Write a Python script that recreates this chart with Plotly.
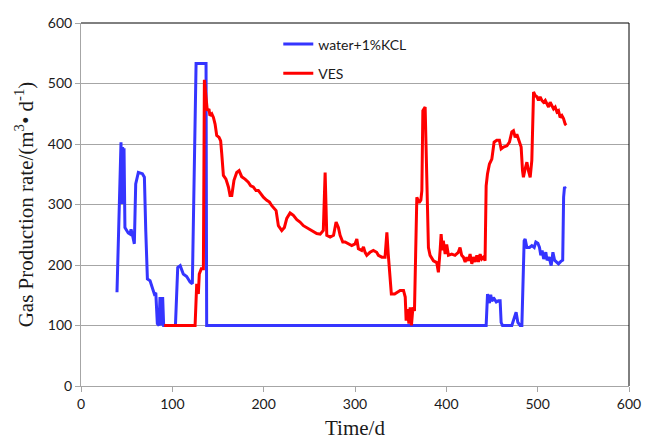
import plotly.graph_objects as go

# ---- data ----
kcl_x = [39.4, 43.8, 44.7, 45.6, 46.4, 47.1, 48.1, 49.8, 51.7, 53.7, 54.8, 56.3, 58.4, 59.9, 60.9,
         62.8, 67.2, 69.4, 70.9, 72.7, 75.6, 77.4, 80.3, 81.9, 83.6, 85.4, 86.5, 88.4, 89.4, 90.5,
         103.4, 105.9, 108.6, 112.0, 115.7, 119.4, 121.9, 126.0, 136.9, 137.6,
         443.6, 445.1, 447.2, 448.6, 449.8, 451.6, 453.5, 454.7, 457.1, 458.9, 460.0, 461.5,
         471.7, 474.2, 476.4, 478.3, 480.8, 482.7, 485.2, 486.3, 488.2, 491.1, 493.6, 496.2,
         498.0, 500.2, 502.0, 503.4, 504.9, 506.6, 508.9, 510.3, 512.5, 514.8, 516.7, 518.5,
         520.2, 522.8, 525.4, 527.4, 528.4, 529.4, 530.5]
kcl_y = [155, 403, 301, 395, 301, 393, 262, 257, 253, 251, 259, 250, 235, 334, 340,
         353, 351, 345, 257, 177, 174, 166, 152, 154, 103, 100, 147, 100, 147, 100,
         100, 196, 199, 185, 181, 172, 169, 533, 533, 100,
         100, 152, 137, 151, 140, 146, 141, 139, 141, 141, 105, 100,
         100, 111, 122, 105, 100, 100, 240, 243, 229, 229, 232, 229,
         238, 236, 229, 216, 224, 210, 221, 208, 213, 199, 221, 208,
         206, 202, 206, 208, 312, 329, 326]

ves_x = [91.1, 124.9, 126.7, 128.5, 129.5, 131.7, 134.0, 135.1, 136.9, 138.3, 140.1, 141.1, 143.2,
         145.0, 146.8, 148.6, 151.2, 152.9, 154.1, 155.9, 158.7, 161.4, 163.2, 165.1, 167.5, 170.5,
         173.1, 175.9, 179.6, 183.2, 185.8, 188.6, 191.6, 194.2, 196.8, 199.7, 203.4, 206.4, 208.9,
         211.5, 213.6, 216.1, 219.8, 222.7, 225.3, 228.9, 232.5, 236.3, 239.8, 243.5, 247.2, 250.9,
         254.5, 258.1, 261.9, 265.3, 267.3, 269.1, 272.8, 276.5, 279.3, 281.8, 283.7, 286.6, 289.1,
         292.8, 296.4, 300.1, 302.0, 303.7, 307.4, 309.3, 311.0, 312.9, 316.4, 320.1, 323.7, 325.6,
         329.4, 332.9, 334.9, 336.4, 338.0, 339.8, 343.4, 347.1, 349.4, 353.1, 355.0, 356.0, 357.4,
         359.0, 360.4, 361.8, 363.4, 365.1, 366.6, 367.7, 370.2, 372.1, 373.2, 374.3, 376.8, 377.8,
         379.3, 380.4, 382.2, 385.9, 389.5, 391.3, 393.2, 394.3, 395.7, 396.7, 398.7, 400.4, 402.3,
         405.9, 409.5, 413.1, 415.0, 416.8, 418.7, 420.6, 422.4, 424.3, 426.0, 427.9, 429.6, 431.6,
         433.4, 435.2, 437.0, 438.8, 440.7, 442.4, 443.6, 445.1, 447.2, 449.8, 452.3, 455.2, 458.1,
         460.0, 462.6, 466.3, 469.1, 471.7, 473.5, 475.4, 477.2, 479.7, 481.9, 483.4, 484.4, 486.3,
         488.2, 489.9, 491.8, 493.6, 495.5, 497.3, 499.2, 500.9, 502.7, 504.6, 506.4, 508.3, 510.1,
         511.9, 513.7, 515.5, 517.4, 519.2, 521.1, 522.8, 524.6, 526.5, 528.3, 530.1, 531.2]
ves_y = [100, 100, 169, 152, 185, 194, 194, 506, 477, 455, 458, 447, 450,
         444, 433, 414, 411, 405, 384, 348, 342, 329, 315, 315, 340, 353,
         356, 346, 342, 337, 331, 329, 323, 323, 318, 312, 307, 304, 298,
         293, 290, 265, 257, 262, 277, 286, 282, 275, 271, 265, 262, 259,
         255, 252, 251, 257, 353, 249, 246, 249, 271, 262, 249, 238, 238,
         235, 232, 235, 243, 227, 224, 230, 221, 216, 221, 224, 221, 216,
         213, 213, 254, 218, 185, 152, 152, 155, 158, 158, 147, 108, 127,
         103, 130, 100, 130, 124, 213, 312, 303, 307, 323, 455, 461, 406,
         296, 229, 216, 207, 204, 188, 224, 251, 224, 240, 218, 234, 216,
         218, 216, 221, 229, 216, 213, 205, 213, 207, 218, 202, 213, 205,
         216, 205, 218, 210, 213, 207, 331, 351, 367, 375, 403, 406, 406,
         392, 395, 397, 403, 420, 422, 411, 416, 403, 395, 356, 345, 359,
         370, 356, 345, 373, 486, 480, 478, 472, 478, 472, 469, 472, 467,
         461, 469, 464, 458, 461, 453, 455, 444, 447, 442, 433, 431]

x_ticks = [0, 100, 200, 300, 400, 500, 600]
y_ticks = [0, 100, 200, 300, 400, 500, 600]

GRID = "#a6a6a6"
TICKFONT = dict(family="Lato", size=14, color="#1a1a1a")
SERIF = "Liberation Serif"

fig = go.Figure()
fig.add_trace(go.Scatter(x=kcl_x, y=kcl_y, mode="lines", name="water+1%KCL",
                         legendgroup="a",
                         line=dict(color="#3535ff", width=3)))
fig.add_trace(go.Scatter(x=ves_x, y=ves_y, mode="lines", name="VES",
                         legendgroup="b",
                         line=dict(color="#ff0000", width=3)))

# top and right black frame lines
fig.add_shape(type="line", xref="paper", yref="paper", x0=0, x1=1, y0=1, y1=1,
              line=dict(color="black", width=1))
fig.add_shape(type="line", xref="paper", yref="paper", x0=1, x1=1, y0=0, y1=1,
              line=dict(color="black", width=1))

fig.update_layout(
    width=657, height=440,
    margin=dict(l=81, r=28, t=23, b=54),
    paper_bgcolor="white", plot_bgcolor="white",
    showlegend=True,
    legend=dict(x=0.36, y=0.985, xanchor="left", yanchor="top",
                bgcolor="rgba(0,0,0,0)", font=dict(family="Lato", size=14, color="#1a1a1a"),
                itemwidth=30, tracegroupgap=8),
    xaxis=dict(range=[0, 600], tickvals=x_ticks, ticks="outside", ticklen=5,
               tickcolor=GRID, showline=True, linecolor=GRID, linewidth=1,
               showgrid=False, zeroline=False, tickfont=TICKFONT, automargin=False,
               title=dict(text="Time/d", font=dict(family=SERIF, size=21, color="#1a1a1a"),
                          standoff=12)),
    yaxis=dict(range=[0, 600], tickvals=y_ticks, ticks="outside", ticklen=5,
               tickcolor=GRID, showline=True, linecolor=GRID, linewidth=1,
               showgrid=True, gridcolor=GRID, gridwidth=1, zeroline=False,
               tickfont=TICKFONT, automargin=False,
               title=dict(text="Gas Production rate/(m<sup>3</sup>• d<sup>-1</sup>)",
                          font=dict(family=SERIF, size=21, color="#1a1a1a"), standoff=8)),
)

fig.write_html("out.html", config={"displayModeBar": False},
               post_script="document.body.style.margin='0';")
